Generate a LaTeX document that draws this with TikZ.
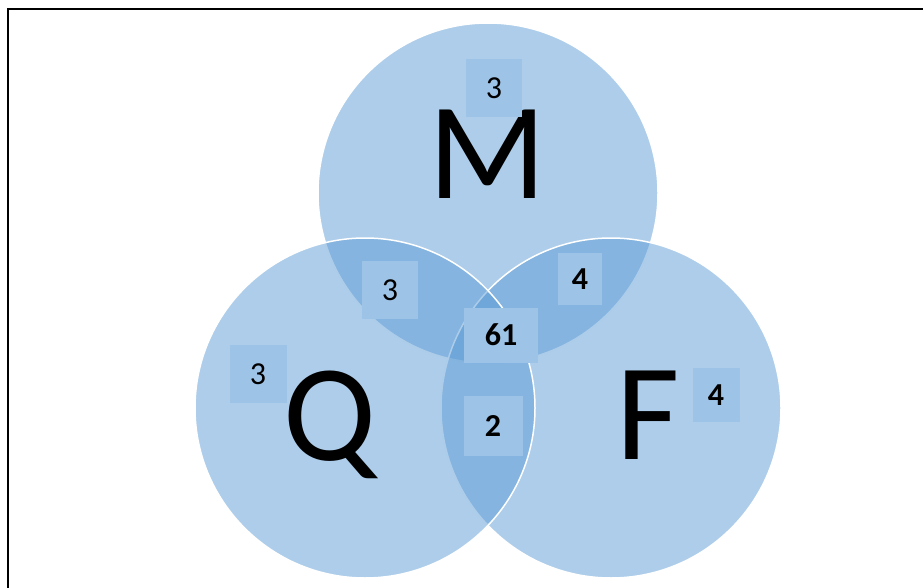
\documentclass[tikz,border=0pt]{standalone}
\usepackage{fontspec}
\setmainfont{Carlito}
\usepackage{tikz}
\usetikzlibrary{positioning}
\definecolor{setblue}{RGB}{91,155,213}
\definecolor{boxblue}{RGB}{157,195,231}

\begin{document}
\begin{tikzpicture}[x=1pt, y=-1pt,
    vennset/.style={fill=setblue, fill opacity=0.5, draw=white, line width=1.5pt},
    setbox/.style={fill=boxblue, inner sep=0pt, font=\fontsize{32}{34}\selectfont},
    bigletter/.style={anchor=base, inner sep=0pt, text height=0.64em, font=\fontsize{138}{140}\selectfont}]
  \useasboundingbox (0,0) rectangle (923,588);
  % outer frame, runs off the right and bottom edges
  \draw[line width=2pt] (8,9) rectangle (940,600);

  % the three sets
  \draw[vennset] (488,193) circle (170);
  \draw[vennset] (611,408) circle (170);
  \draw[vennset] (365,408) circle (170);

  % set names
  \node[bigletter] (nameM) at (487,199) {M};
  \node[bigletter] (nameQ) at (330,460) {Q};
  \node[bigletter] (nameF) at (648,459) {F};

  % counts
  \node[setbox, minimum width=56, minimum height=58] (onlyM) at (494,88) {3};
  \node[setbox, minimum width=56, minimum height=58] (MQ) at (390,290) {3};
  \node[setbox, minimum width=44, minimum height=52] (MF) at (580,279) {\textbf{4}};
  \node[setbox, minimum width=74, minimum height=55] (MQF) at (501,335) {\textbf{61}};
  \node[setbox, minimum width=59, minimum height=60] (QF) at (493,426) {\textbf{2}};
  \node[setbox, minimum width=57, minimum height=58] (onlyQ) at (258,374) {3};
  \node[setbox, minimum width=47, minimum height=54] (onlyF) at (716,395) {\textbf{4}};
\end{tikzpicture}
\end{document}
